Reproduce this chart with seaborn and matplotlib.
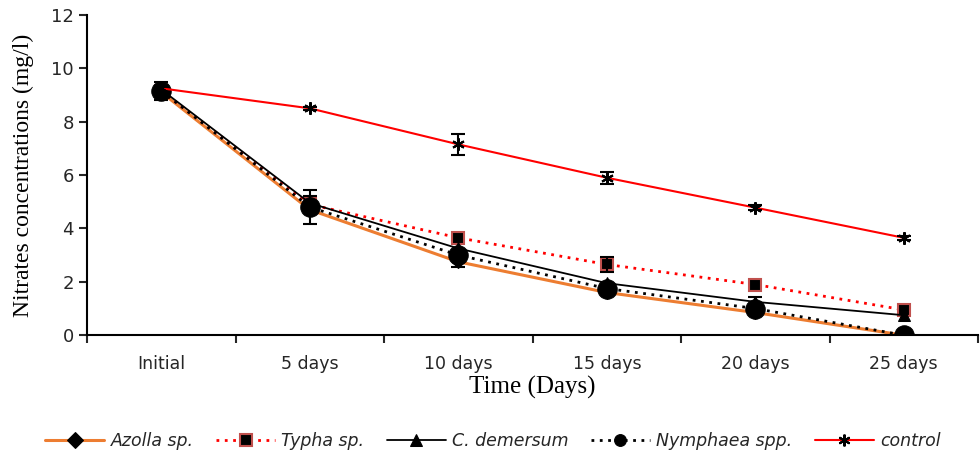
import numpy as np
import matplotlib
matplotlib.use("Agg")
import matplotlib.pyplot as plt
import seaborn as sns

days = ["Initial", "5 days", "10 days", "15 days", "20 days", "25 days"]

azolla = [9.10, 4.70, 2.75, 1.60, 0.85, 0.00]
typha = [9.15, 4.90, 3.65, 2.65, 1.90, 0.95]
demersum = [9.20, 4.95, 3.25, 1.95, 1.25, 0.75]
nymphaea = [9.15, 4.80, 3.00, 1.75, 1.00, 0.00]
control = [9.25, 8.50, 7.15, 5.90, 4.78, 3.65]

# standard deviations (nan = no bar visible)
azolla_err = [np.nan, np.nan, 0.20, np.nan, np.nan, np.nan]
typha_err = [np.nan, 0.30, np.nan, 0.28, np.nan, np.nan]
demersum_err = [np.nan, np.nan, np.nan, np.nan, 0.20, np.nan]
nymphaea_err = [0.35, 0.63, np.nan, np.nan, np.nan, np.nan]
control_err = [np.nan, 0.05, 0.40, 0.22, 0.10, 0.07]

sns.set_style("white")
plt.rcParams['font.family'] = ['DejaVu Sans']

fig = plt.figure(figsize=(9.8, 4.53), dpi=100)
ax = fig.add_axes([0.089, 0.26, 0.909, 0.707])

x = np.arange(len(days))

series = [
    ("Azolla sp.", azolla, azolla_err, dict(color="#ED7D31", linestyle="-", linewidth=2.2,
                                             marker="D", markersize=6, markerfacecolor="black",
                                             markeredgecolor="black")),
    ("Typha sp.", typha, typha_err, dict(color="#FF0000", linestyle=(0, (1, 2)), linewidth=2,
                                         marker="s", markersize=8, markerfacecolor="black",
                                         markeredgecolor="#C0504D", markeredgewidth=1.5)),
    ("C. demersum", demersum, demersum_err, dict(color="black", linestyle="-", linewidth=1.3,
                                                  marker="^", markersize=8, markerfacecolor="black",
                                                  markeredgecolor="black")),
    ("Nymphaea spp.", nymphaea, nymphaea_err, dict(color="black", linestyle=(0, (1, 2)), linewidth=2,
                                                   marker="o", markersize=14, markerfacecolor="black",
                                                   markeredgecolor="black")),
    ("control", control, control_err, dict(color="#FF0000", linestyle="-", linewidth=1.5,
                                           marker=(6, 2, 0), markersize=9, markerfacecolor="black",
                                           markeredgecolor="black", markeredgewidth=1.5)),
]

for name, vals, errs, kw in series:
    sns.lineplot(x=x, y=vals, ax=ax, label=name, **kw)
    ax.errorbar(x, vals, yerr=errs, fmt="none", ecolor="black", elinewidth=1.5,
                capsize=5, capthick=1.5, zorder=3)

ax.set_xlim(-0.5, 5.5)
ax.set_ylim(0, 12)
ax.set_yticks(np.arange(0, 13, 2))
ax.set_xticks(np.arange(-0.5, 6, 1))
ax.set_xticklabels([])
ax.set_xticks(x, minor=True)
ax.set_xticklabels(days, minor=True)
ax.tick_params(axis="x", which="major", direction="out", length=6, width=1.5, bottom=True)
ax.tick_params(axis="x", which="minor", length=0, pad=14, labelsize=12.5, labelcolor="#262626")
ax.tick_params(axis="y", direction="out", length=6, width=1.5, left=True, labelsize=13,
               labelcolor="#262626")

for s in ["top", "right"]:
    ax.spines[s].set_visible(False)
for s in ["left", "bottom"]:
    ax.spines[s].set_color("black")
    ax.spines[s].set_linewidth(1.5)

ax.set_xlabel("Time (Days)", family="Liberation Serif", fontsize=18, labelpad=2, color="black")
ax.set_ylabel("Nitrates concentrations (mg/l)", family="Liberation Serif", fontsize=17,
              labelpad=12, color="black")

handles, labels = ax.get_legend_handles_labels()
ax.get_legend().remove()
leg = fig.legend(handles, labels, loc="center", bbox_to_anchor=(0.503, 1 - 441 / 453), ncol=5,
                 frameon=False, prop=dict(family="DejaVu Sans", style="italic", size=12.5),
                 handlelength=3.4, columnspacing=1.3, handletextpad=0.35)
for h in leg.legend_handles:
    h.set_markersize(8.5)
for t in leg.get_texts():
    t.set_color("#262626")

fig.savefig("out.png", dpi=100)
